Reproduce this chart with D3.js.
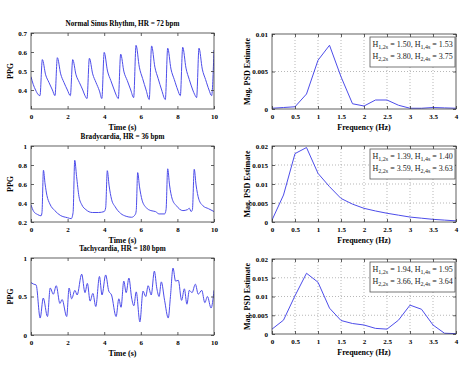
<!DOCTYPE html>
<html>
<head>
<meta charset="utf-8">
<script src="https://cdn.jsdelivr.net/npm/d3@7"></script>
<style>
  body { margin: 0; background: #fff; }
  svg text { font-family: "Liberation Serif", "Times New Roman", serif; }
</style>
</head>
<body>
<svg id="chart" width="474" height="375"></svg>
<script>
// time series: [time (s), PPG]
var normalPpg = [
  [0, 0.47], [0.12, 0.43], [0.25, 0.40], [0.4, 0.375], [0.49, 0.37], [0.62, 0.56],
  [0.8, 0.48], [0.98, 0.44], [1.17, 0.40], [1.31, 0.37], [1.44, 0.57], [1.62, 0.485],
  [1.8, 0.44], [1.99, 0.40], [2.15, 0.37], [2.28, 0.56], [2.46, 0.48], [2.64, 0.44],
  [2.83, 0.40], [2.95, 0.37], [3.06, 0.355], [3.19, 0.567], [3.37, 0.485], [3.55, 0.44],
  [3.74, 0.395], [3.87, 0.355], [4.0, 0.598], [4.18, 0.5], [4.36, 0.45], [4.55, 0.40],
  [4.67, 0.37], [4.77, 0.355], [4.9, 0.589], [5.08, 0.495], [5.26, 0.45], [5.45, 0.40],
  [5.61, 0.36], [5.74, 0.635], [5.92, 0.52], [6.1, 0.46], [6.29, 0.40], [6.46, 0.35],
  [6.59, 0.632], [6.77, 0.52], [6.95, 0.46], [7.14, 0.40], [7.34, 0.35], [7.47, 0.62],
  [7.65, 0.51], [7.83, 0.455], [8.02, 0.40], [8.16, 0.37], [8.29, 0.625], [8.47, 0.515],
  [8.65, 0.455], [8.84, 0.40], [8.95, 0.375], [9.05, 0.36], [9.18, 0.62], [9.36, 0.51],
  [9.54, 0.455], [9.73, 0.40], [9.87, 0.37], [10, 0.61]
];

var bradyPpg = [
  [0, 0.38], [0.15, 0.31], [0.35, 0.28], [0.55, 0.265], [0.6, 0.3], [0.68, 0.745],
  [0.77, 0.6], [0.87, 0.48], [1.03, 0.39], [1.3, 0.32], [1.6, 0.27], [2.0, 0.245],
  [2.2, 0.235], [2.3, 0.3], [2.39, 0.85], [2.49, 0.68], [2.62, 0.47], [2.78, 0.38],
  [3.0, 0.33], [3.35, 0.3], [3.7, 0.3], [4.0, 0.31], [4.08, 0.35], [4.17, 0.74],
  [4.27, 0.58], [4.4, 0.44], [4.6, 0.36], [4.9, 0.29], [5.2, 0.26], [5.5, 0.25],
  [5.7, 0.28], [5.75, 0.32], [5.83, 0.72], [5.93, 0.57], [6.07, 0.43], [6.3, 0.35],
  [6.55, 0.32], [6.8, 0.31], [7.0, 0.285], [7.3, 0.285], [7.38, 0.33], [7.47, 0.76],
  [7.57, 0.59], [7.72, 0.44], [7.95, 0.37], [8.3, 0.32], [8.55, 0.33], [8.65, 0.345],
  [8.75, 0.31], [8.82, 0.33], [8.92, 0.755], [9.02, 0.59], [9.17, 0.44], [9.4, 0.37],
  [9.7, 0.34], [10, 0.31]
];

var tachyPpg = [
  [0, 0.68], [0.15, 0.66], [0.28, 0.65], [0.5, 0.22], [0.67, 0.48], [0.9, 0.24],
  [1.05, 0.61], [1.22, 0.53], [1.38, 0.64], [1.58, 0.41], [1.7, 0.46], [1.95, 0.24],
  [2.08, 0.61], [2.22, 0.47], [2.4, 0.58], [2.52, 0.52], [2.77, 0.79], [2.95, 0.55],
  [3.08, 0.67], [3.23, 0.44], [3.38, 0.54], [3.54, 0.37], [3.74, 0.76], [3.88, 0.52],
  [4.08, 0.78], [4.25, 0.57], [4.4, 0.52], [4.65, 0.24], [4.8, 0.47], [4.92, 0.36],
  [5.07, 0.7], [5.2, 0.55], [5.35, 0.74], [5.5, 0.48], [5.62, 0.38], [5.75, 0.56],
  [5.95, 0.17], [6.12, 0.57], [6.27, 0.5], [6.4, 0.64], [6.57, 0.52], [6.74, 0.83],
  [6.88, 0.6], [7.0, 0.5], [7.12, 0.69], [7.3, 0.45], [7.5, 0.22], [7.62, 0.5],
  [7.76, 0.87], [7.9, 0.7], [8.05, 0.71], [8.23, 0.45], [8.38, 0.6], [8.52, 0.4],
  [8.65, 0.58], [8.8, 0.55], [8.98, 0.66], [9.14, 0.53], [9.33, 0.58], [9.5, 0.42],
  [9.64, 0.5], [9.84, 0.35], [10, 0.58]
];

// PSD estimates, one value per frequency bin
var psdFreq = [0, 0.25, 0.5, 0.75, 1, 1.25, 1.5, 1.75, 2, 2.25, 2.5, 2.75, 3, 3.25, 3.5, 3.75, 4];
var normalPsd = [0.0001, 0.0002, 0.0003, 0.002, 0.0065, 0.0085, 0.0043, 0.0007, 0.0004, 0.0012, 0.0012, 0.0005, 0.0001, 0.0001, 0.0002, 0.00015, 0.0001];
var bradyPsd = [0.0005, 0.0071, 0.018, 0.0196, 0.0128, 0.0093, 0.0062, 0.0047, 0.0036, 0.0029, 0.0023, 0.0018, 0.0013, 0.001, 0.0007, 0.0005, 0.0003];
var tachyPsd = [0.0013, 0.0037, 0.0102, 0.0162, 0.0138, 0.0069, 0.0036, 0.0028, 0.0024, 0.0015, 0.0013, 0.0037, 0.0077, 0.0066, 0.0024, 0.0002, 0.0001];

var titles = ['Normal Sinus Rhythm, HR = 72 bpm', 'Bradycardia, HR = 36 bpm', 'Tachycardia, HR = 180 bpm'];
// H1,2s  H1,4s  H2,2s  H2,4s
var hurst = [
  ['1.50', '1.53', '3.80', '3.75'],
  ['1.39', '1.40', '3.59', '3.63'],
  ['1.94', '1.95', '3.66', '3.64']
];

var timeTicks = [0, 2, 4, 6, 8, 10];
var freqTicks = [0, 0.5, 1, 1.5, 2, 2.5, 3, 3.5, 4];
var ppgDomains = [[0.3, 0.7], [0.2, 1], [0, 1]];
var ppgTicks = [[0.4, 0.5, 0.6, 0.7], [0.2, 0.4, 0.6, 0.8, 1], [0, 0.5, 1]];
var psdDomains = [[0, 0.01], [0, 0.02], [0, 0.02]];
var psdTicks = [[0, 0.005, 0.01], [0, 0.005, 0.01, 0.015, 0.02], [0, 0.005, 0.01, 0.015, 0.02]];

var svg = d3.select('#chart');
var lineColor = '#4d4dea';
var axisColor = '#3a3a3a';

var rowsLeft = [{top: 33, bottom: 109}, {top: 146, bottom: 222}, {top: 258, bottom: 335}];
var rowsRight = [{top: 34, bottom: 109}, {top: 146, bottom: 222}, {top: 259, bottom: 334}];

function fmt(v) {
  return String(+v.toFixed(4));
}

function drawPanel(opts) {
  var g = svg.append('g');
  var x = d3.scaleLinear().domain(opts.xDomain).range([opts.left, opts.right]);
  var y = d3.scaleLinear().domain(opts.yDomain).range([opts.bottom, opts.top]);

  if (opts.grid) {
    g.selectAll('line.gx')
      .data(opts.xTicks.slice(1, -1))
      .enter().append('line')
      .attr('x1', function(d) { return x(d); })
      .attr('x2', function(d) { return x(d); })
      .attr('y1', opts.top)
      .attr('y2', opts.bottom)
      .attr('stroke', '#9a9a9a')
      .attr('stroke-width', 0.7)
      .attr('stroke-dasharray', '1,2');
    g.selectAll('line.gy')
      .data(opts.yTicks.filter(function(d) { return d > opts.yDomain[0] && d < opts.yDomain[1]; }))
      .enter().append('line')
      .attr('x1', opts.left)
      .attr('x2', opts.right)
      .attr('y1', function(d) { return y(d); })
      .attr('y2', function(d) { return y(d); })
      .attr('stroke', '#9a9a9a')
      .attr('stroke-width', 0.7)
      .attr('stroke-dasharray', '1,2');
  }

  var clipId = 'clip' + opts.id;
  svg.append('clipPath').attr('id', clipId)
    .append('rect')
    .attr('x', opts.left).attr('y', opts.top)
    .attr('width', opts.right - opts.left).attr('height', opts.bottom - opts.top);

  var line = d3.line()
    .x(function(d) { return x(d[0]); })
    .y(function(d) { return y(d[1]); })
    .curve(opts.curve);

  g.append('path')
    .datum(opts.data)
    .attr('clip-path', 'url(#' + clipId + ')')
    .attr('d', line)
    .attr('fill', 'none')
    .attr('stroke', lineColor)
    .attr('stroke-width', 1);

  // axes with inward ticks, MATLAB box style
  var bottom = g.append('g').attr('transform', 'translate(0,' + opts.bottom + ')')
    .call(d3.axisBottom(x).tickValues(opts.xTicks).tickFormat(fmt).tickSizeInner(-3).tickSizeOuter(0).tickPadding(5));
  var top = g.append('g').attr('transform', 'translate(0,' + opts.top + ')')
    .call(d3.axisTop(x).tickValues(opts.xTicks).tickFormat('').tickSizeInner(-3).tickSizeOuter(0));
  var left = g.append('g').attr('transform', 'translate(' + opts.left + ',0)')
    .call(d3.axisLeft(y).tickValues(opts.yTicks).tickFormat(fmt).tickSizeInner(-3).tickSizeOuter(0).tickPadding(opts.yPad));
  var right = g.append('g').attr('transform', 'translate(' + opts.right + ',0)')
    .call(d3.axisRight(y).tickValues(opts.yTicks).tickFormat('').tickSizeInner(-3).tickSizeOuter(0));

  [bottom, top, left, right].forEach(function(a) {
    a.select('.domain').remove();
    a.selectAll('line').attr('stroke', axisColor).attr('stroke-width', 0.8);
    a.selectAll('text')
      .attr('fill', '#000')
      .attr('font-size', 7)
      .attr('font-weight', 'bold')
      .style('font-family', '"Liberation Serif", "Times New Roman", serif');
  });

  g.append('rect')
    .attr('x', opts.left).attr('y', opts.top)
    .attr('width', opts.right - opts.left).attr('height', opts.bottom - opts.top)
    .attr('fill', 'none')
    .attr('stroke', axisColor)
    .attr('stroke-width', 0.8);

  g.append('text')
    .attr('x', (opts.left + opts.right) / 2)
    .attr('y', opts.bottom + 21)
    .attr('text-anchor', 'middle')
    .attr('font-size', 8)
    .attr('font-weight', 'bold')
    .text(opts.xLabel);

  g.append('text')
    .attr('transform', 'translate(' + opts.yLabelX + ',' + (opts.top + opts.bottom) / 2 + ') rotate(-90)')
    .attr('text-anchor', 'middle')
    .attr('font-size', 8)
    .attr('font-weight', 'bold')
    .text(opts.yLabel);

  if (opts.title) {
    g.append('text')
      .attr('x', (opts.left + opts.right) / 2)
      .attr('y', opts.top - 7)
      .attr('text-anchor', 'middle')
      .attr('font-size', 7.2)
      .attr('font-weight', 'bold')
      .text(opts.title);
  }

  if (opts.legend) {
    var bx = 370, bw = 85, by = opts.top + 3, bh = 30;
    g.append('rect')
      .attr('x', bx).attr('y', by).attr('width', bw).attr('height', bh)
      .attr('fill', '#fff')
      .attr('stroke', '#555')
      .attr('stroke-width', 0.8);
    var rowsText = [
      ['H', '1,2s', ' = ' + opts.legend[0] + ', H', '1,4s', ' = ' + opts.legend[1]],
      ['H', '2,2s', ' = ' + opts.legend[2] + ', H', '2,4s', ' = ' + opts.legend[3]]
    ];
    rowsText.forEach(function(parts, i) {
      var t = g.append('text')
        .attr('x', bx + 2.5)
        .attr('y', by + 10 + i * 12)
        .attr('font-size', 8)
        .attr('fill', '#222');
      parts.forEach(function(p, k) {
        var ts = t.append('tspan').text(p);
        if (k % 2 === 1) {
          ts.attr('font-size', 6).attr('dy', 2);
        } else if (k > 0) {
          ts.attr('dy', -2);
        }
      });
    });
  }
}

var ppgData = [normalPpg, bradyPpg, tachyPpg];
var psdData = [normalPsd, bradyPsd, tachyPsd];

ppgData.forEach(function(d, i) {
  drawPanel({
    id: 'l' + i,
    left: 31, right: 214,
    top: rowsLeft[i].top, bottom: rowsLeft[i].bottom,
    xDomain: [0, 10], yDomain: ppgDomains[i],
    xTicks: timeTicks, yTicks: ppgTicks[i],
    data: d,
    curve: d3.curveMonotoneX,
    grid: false,
    yPad: 4,
    xLabel: 'Time (s)',
    yLabel: 'PPG',
    yLabelX: 13,
    title: titles[i]
  });
});

psdData.forEach(function(vals, i) {
  drawPanel({
    id: 'r' + i,
    left: 272, right: 456,
    top: rowsRight[i].top, bottom: rowsRight[i].bottom,
    xDomain: [0, 4], yDomain: psdDomains[i],
    xTicks: freqTicks, yTicks: psdTicks[i],
    data: psdFreq.map(function(f, k) { return [f, vals[k]]; }),
    curve: d3.curveLinear,
    grid: true,
    yPad: 4,
    xLabel: 'Frequency (Hz)',
    yLabel: 'Mag. PSD Estimate',
    yLabelX: 250,
    legend: hurst[i]
  });
});
</script>
</body>
</html>
